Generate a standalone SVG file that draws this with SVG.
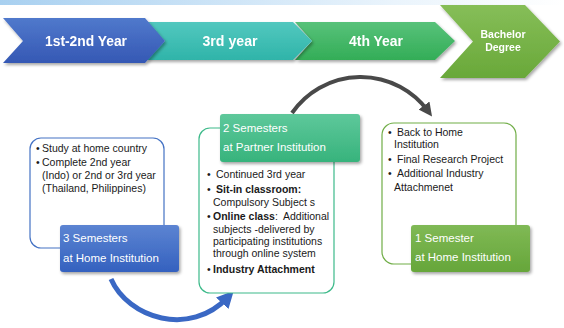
<svg xmlns="http://www.w3.org/2000/svg" width="564" height="328" viewBox="0 0 564 328">
<defs>
<linearGradient id="band" x1="0" y1="0" x2="1" y2="0"><stop offset="0" stop-color="#a8d0f0"/><stop offset="0.7" stop-color="#eaf4fc"/><stop offset="1" stop-color="#ffffff"/></linearGradient>
<linearGradient id="g1" x1="0" y1="0" x2="0" y2="1"><stop offset="0" stop-color="#5079cc"/><stop offset="1" stop-color="#3558b4"/></linearGradient>
<linearGradient id="g3" x1="0" y1="0" x2="0" y2="1"><stop offset="0" stop-color="#52c8bf"/><stop offset="1" stop-color="#2fb4a9"/></linearGradient>
<linearGradient id="g4" x1="0" y1="0" x2="0" y2="1"><stop offset="0" stop-color="#58c27a"/><stop offset="1" stop-color="#33ad57"/></linearGradient>
<linearGradient id="gb" x1="0" y1="0" x2="0" y2="1"><stop offset="0" stop-color="#86be58"/><stop offset="1" stop-color="#69a839"/></linearGradient>
<linearGradient id="lb" x1="0" y1="0" x2="0" y2="1"><stop offset="0" stop-color="#5c84d2"/><stop offset="1" stop-color="#3461bf"/></linearGradient>
<linearGradient id="lg" x1="0" y1="0" x2="0" y2="1"><stop offset="0" stop-color="#5ec89b"/><stop offset="1" stop-color="#37b37c"/></linearGradient>
<linearGradient id="ll" x1="0" y1="0" x2="0" y2="1"><stop offset="0" stop-color="#80b955"/><stop offset="1" stop-color="#66a63a"/></linearGradient>
<filter id="sh" x="-10%" y="-20%" width="130%" height="150%"><feDropShadow dx="1.5" dy="2" stdDeviation="1.5" flood-color="#000" flood-opacity="0.35"/></filter>
<filter id="soft" x="-20%" y="-20%" width="140%" height="140%"><feGaussianBlur stdDeviation="0.7"/></filter>
<marker id="ab" viewBox="0 0 10 10" refX="5" refY="5" markerWidth="3.4" markerHeight="3.4" orient="auto" markerUnits="strokeWidth"><path d="M0,0 L10,5 L0,10 z" fill="#3a68c4"/></marker>
<marker id="ag" viewBox="0 0 10 10" refX="5" refY="5" markerWidth="3.4" markerHeight="3.4" orient="auto" markerUnits="strokeWidth"><path d="M0,0 L10,5 L0,10 z" fill="#4a4a4a"/></marker>
<style>
.ch{font-family:"Liberation Sans",Arial,sans-serif;font-weight:bold;fill:#fff;text-anchor:middle}
.bt{font-family:"Liberation Sans",Arial,sans-serif;font-size:10.5px;fill:#1a1a1a}
.lt{font-family:"Liberation Sans",Arial,sans-serif;font-size:11.5px;fill:#fff}
.b{font-weight:bold}
</style>
</defs>
<rect x="0" y="0" width="564" height="5" fill="url(#band)"/>

<g id="bachelor" filter="url(#sh)"><polygon points="440,5 525,5 560,41.5 525,78 440,78 473,41.5" fill="url(#gb)"/><text class="ch" font-size="10.5" x="503" y="38">Bachelor</text><text class="ch" font-size="10.5" x="503" y="51">Degree</text></g>
<g id="year4" filter="url(#sh)"><polygon points="295,22 435,22 455,41 435,60 295,60 312,41" fill="url(#g4)"/><text class="ch" font-size="14" x="376" y="46" textLength="54" lengthAdjust="spacingAndGlyphs">4th Year</text></g>
<g id="year3" filter="url(#sh)"><polygon points="145,22 293,22 312,41 293,60 145,60 165,41" fill="url(#g3)"/><text class="ch" font-size="14" x="230" y="46" textLength="55" lengthAdjust="spacingAndGlyphs">3rd year</text></g>
<g id="year12" filter="url(#sh)"><polygon points="3,18 145,18 165,41 145,63 3,63 23,41" fill="url(#g1)"/><text class="ch" font-size="14" x="86" y="46" textLength="82" lengthAdjust="spacingAndGlyphs">1st-2nd Year</text></g>

<g id="connectors" fill="none">
<path d="M111,279 C128,318 190,338 228,297" stroke="#3a68c4" stroke-width="5" marker-end="url(#ab)"/>
<path d="M292,113 A83.5,83.5 0 0 1 428,111" stroke="#4a4a4a" stroke-width="4" marker-end="url(#ag)" filter="url(#soft)"/>
</g>

<g id="home1">
<rect x="30" y="138" width="134" height="110" rx="11" fill="#fff" stroke="#4472c4" stroke-width="1.2"/>
<text class="bt"><tspan x="36" y="152">•</tspan><tspan x="42" y="152">Study at home country</tspan><tspan x="36" y="166">•</tspan><tspan x="42" y="166">Complete 2nd year</tspan><tspan x="42" y="179">(Indo) or 2nd or 3rd year</tspan><tspan x="42" y="192">(Thailand, Philippines)</tspan></text>
<rect x="60" y="225" width="119" height="47" rx="3" fill="url(#lb)" filter="url(#sh)"/>
<text class="lt"><tspan x="63" y="242">3 Semesters</tspan><tspan x="63" y="262">at Home Institution</tspan></text>
</g>

<g id="partner">
<rect x="199" y="128" width="135" height="165" rx="11" fill="#fff" stroke="#3dba8a" stroke-width="1.2"/>
<text class="bt"><tspan x="207" y="178">•</tspan><tspan x="216" y="178">Continued 3rd year</tspan>
<tspan x="207" y="193">•</tspan><tspan x="216" y="193" class="b">Sit-in classroom:</tspan>
<tspan x="213" y="206">Compulsory Subject s</tspan>
<tspan x="207" y="220">•</tspan><tspan x="213" y="220" class="b">Online class</tspan><tspan>:</tspan><tspan x="283" y="220">Additional</tspan>
<tspan x="213" y="233">subjects -delivered by</tspan>
<tspan x="213" y="245">participating institutions</tspan>
<tspan x="213" y="257">through online system</tspan>
<tspan x="207" y="273">•</tspan><tspan x="213" y="273" class="b">Industry Attachment</tspan></text>
<rect x="220" y="114" width="140" height="48" rx="3" fill="url(#lg)" filter="url(#sh)"/>
<text class="lt"><tspan x="223" y="132">2 Semesters</tspan><tspan x="223" y="151">at Partner Institution</tspan></text>
</g>

<g id="home2">
<rect x="382" y="123" width="134" height="141" rx="12" fill="#fff" stroke="#70ad47" stroke-width="1.2"/>
<text class="bt"><tspan x="388" y="136">•</tspan><tspan x="397" y="136">Back to Home</tspan><tspan x="394" y="148">Institution</tspan>
<tspan x="388" y="163">•</tspan><tspan x="397" y="163">Final Research Project</tspan>
<tspan x="388" y="177">•</tspan><tspan x="397" y="177">Additional Industry</tspan><tspan x="394" y="191">Attachmenet</tspan></text>
<rect x="411" y="225" width="119" height="47" rx="3" fill="url(#ll)" filter="url(#sh)"/>
<text class="lt"><tspan x="415" y="242">1 Semester</tspan><tspan x="415" y="261">at Home Institution</tspan></text>
</g>
</svg>
